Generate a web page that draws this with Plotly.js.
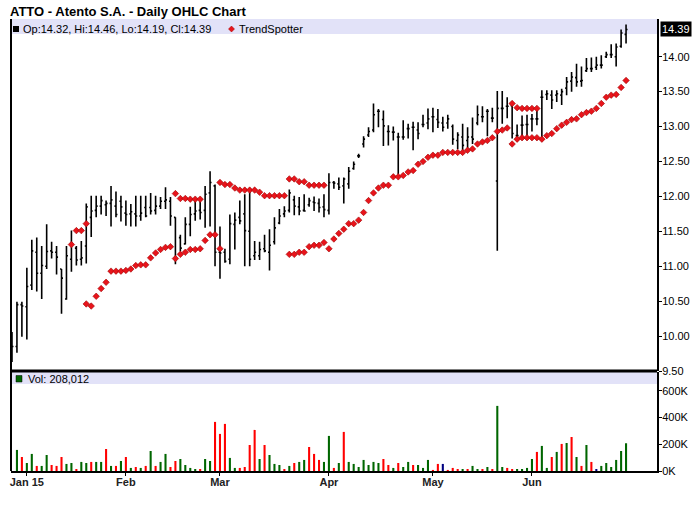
<!DOCTYPE html>
<html>
<head>
<meta charset="utf-8">
<script src="https://cdn.plot.ly/plotly-3.0.1.min.js"></script>
<style>html,body{margin:0;padding:0;background:#fff;}#chart{width:700px;height:512px;}</style>
</head>
<body>
<div id="chart"></div>
<script>
// ---- data ----
const dates = [
"2014-12-29","2014-12-30","2014-12-31",
"2015-01-02","2015-01-05","2015-01-06","2015-01-07","2015-01-08","2015-01-09","2015-01-12","2015-01-13","2015-01-14","2015-01-15","2015-01-16","2015-01-20","2015-01-21","2015-01-22","2015-01-23","2015-01-26","2015-01-27","2015-01-28","2015-01-29","2015-01-30",
"2015-02-02","2015-02-03","2015-02-04","2015-02-05","2015-02-06","2015-02-09","2015-02-10","2015-02-11","2015-02-12","2015-02-13","2015-02-17","2015-02-18","2015-02-19","2015-02-20","2015-02-23","2015-02-24","2015-02-25","2015-02-26","2015-02-27",
"2015-03-02","2015-03-03","2015-03-04","2015-03-05","2015-03-06","2015-03-09","2015-03-10","2015-03-11","2015-03-12","2015-03-13","2015-03-16","2015-03-17","2015-03-18","2015-03-19","2015-03-20","2015-03-23","2015-03-24","2015-03-25","2015-03-26","2015-03-27","2015-03-30","2015-03-31",
"2015-04-01","2015-04-02","2015-04-06","2015-04-07","2015-04-08","2015-04-09","2015-04-10","2015-04-13","2015-04-14","2015-04-15","2015-04-16","2015-04-17","2015-04-20","2015-04-21","2015-04-22","2015-04-23","2015-04-24","2015-04-27","2015-04-28","2015-04-29","2015-04-30",
"2015-05-01","2015-05-04","2015-05-05","2015-05-06","2015-05-07","2015-05-08","2015-05-11","2015-05-12","2015-05-13","2015-05-14","2015-05-15","2015-05-18","2015-05-19","2015-05-20","2015-05-21","2015-05-22","2015-05-26","2015-05-27","2015-05-28","2015-05-29",
"2015-06-01","2015-06-02","2015-06-03","2015-06-04","2015-06-05","2015-06-08","2015-06-09","2015-06-10","2015-06-11","2015-06-12","2015-06-15","2015-06-16","2015-06-17","2015-06-18","2015-06-19","2015-06-22","2015-06-23","2015-06-24","2015-06-25","2015-06-26"
];
const opens = [
9.66,9.85,10.45,10.42,10.73,11.20,10.90,11.00,11.22,11.20,
10.96,10.53,11.10,11.26,11.10,11.29,11.70,11.80,11.86,11.88,
11.90,11.86,11.93,11.76,11.75,11.75,11.72,11.84,11.84,11.80,
11.86,11.93,11.93,11.70,11.41,11.32,11.60,11.75,11.80,11.80,
12.05,12.15,11.20,11.20,11.10,11.60,11.70,11.75,11.50,11.15,
11.15,11.25,11.20,11.35,11.62,11.75,11.80,11.95,11.85,11.80,
11.88,11.92,11.90,11.85,11.80,12.20,12.18,12.15,12.18,12.40,
12.58,12.75,12.88,12.95,13.22,13.10,12.93,12.92,12.85,12.85,
12.97,12.99,12.95,13.03,13.05,13.14,13.10,13.05,13.05,13.00,
12.80,12.85,12.80,12.85,13.05,13.14,13.22,13.12,12.22,13.26,
13.29,13.30,12.87,13.02,13.03,13.11,13.11,13.42,13.46,13.45,
13.45,13.45,13.55,13.65,13.70,13.65,13.80,13.83,13.85,13.88,
14.00,14.03,14.00,14.15,14.32];
const highs = [
10.06,10.49,10.49,10.98,11.38,11.41,11.29,11.60,11.35,11.29,
10.96,11.29,11.51,11.29,11.36,11.90,12.01,12.01,12.01,11.94,
12.15,12.07,12.01,11.94,11.89,12.01,12.01,12.01,12.05,12.01,
11.99,12.13,11.99,11.70,11.45,11.70,11.85,11.99,11.93,12.15,
12.36,12.17,11.57,11.25,11.74,11.77,11.94,12.03,12.10,11.36,
11.35,11.45,11.53,11.70,11.82,11.86,12.10,12.01,11.99,12.03,
11.98,12.00,11.97,12.03,12.33,12.22,12.27,12.27,12.42,12.50,
12.61,12.86,12.99,13.33,13.25,13.23,13.02,13.00,12.91,13.09,
13.04,13.07,13.06,13.17,13.26,13.27,13.25,13.14,13.17,13.03,
12.92,13.04,12.99,13.13,13.30,13.29,13.25,13.27,13.51,13.51,
13.42,13.33,13.03,13.16,13.17,13.18,13.26,13.52,13.52,13.52,
13.52,13.54,13.71,13.78,13.90,13.86,13.98,13.99,14.00,14.02,
14.07,14.18,14.19,14.39,14.46];
const lows = [
9.63,9.76,9.99,9.95,10.66,10.64,10.53,10.96,11.11,10.88,
10.32,10.52,10.92,11.01,11.01,11.04,11.42,11.70,11.74,11.72,
11.57,11.70,11.64,11.58,11.57,11.57,11.65,11.70,11.74,11.74,
11.82,11.82,11.58,11.03,11.21,11.31,11.43,11.65,11.67,11.55,
11.57,11.00,10.82,11.05,11.03,11.24,11.60,11.00,11.00,11.09,
11.09,11.20,10.94,11.31,11.60,11.70,11.77,11.73,11.73,11.78,
11.85,11.79,11.77,11.70,11.74,12.11,12.09,11.90,12.11,12.38,
12.55,12.70,12.85,12.92,12.99,12.72,12.73,12.80,12.32,12.81,
12.83,12.66,12.82,12.99,12.96,12.92,12.98,12.93,12.97,12.74,
12.68,12.63,12.69,12.75,13.02,13.06,12.86,13.06,11.22,13.04,
13.12,12.83,12.80,12.85,12.87,12.93,13.02,12.82,13.38,13.25,
13.35,13.31,13.45,13.50,13.57,13.57,13.78,13.78,13.81,13.83,
13.98,13.98,13.86,14.13,14.19];
const closes = [
9.85,10.45,10.43,10.71,11.22,10.90,11.01,11.21,11.20,11.13,
10.83,11.15,11.31,11.09,11.12,11.85,11.79,11.86,11.94,11.90,
11.95,11.74,11.85,11.74,11.78,11.72,11.76,11.72,11.79,11.86,
11.93,11.95,11.72,11.12,11.26,11.60,11.74,11.79,11.77,12.03,
12.20,11.20,11.19,11.07,11.61,11.66,11.65,11.51,11.10,11.20,
11.24,11.22,11.30,11.55,11.72,11.79,12.05,11.86,11.79,11.79,
11.94,11.91,11.84,11.81,12.20,12.19,12.13,12.25,12.36,12.46,
12.58,12.82,12.93,13.17,13.22,13.01,12.93,12.92,12.85,12.85,
12.97,12.99,12.90,13.03,13.11,13.14,13.06,12.99,13.11,12.82,
12.88,12.73,12.85,12.82,13.17,13.14,13.22,13.12,13.26,13.26,
13.29,12.90,12.87,13.02,13.03,13.11,13.11,13.42,13.47,13.38,
13.47,13.50,13.64,13.71,13.64,13.66,13.83,13.83,13.88,13.88,
14.03,14.03,14.14,14.34,14.39];
const trendUpper = [
null,null,null,null,null,null,null,null,null,null,
null,null,11.31,11.51,11.51,11.61,null,null,null,null,
null,null,null,null,null,null,null,null,null,null,
null,null,null,12.04,11.97,11.97,11.96,11.96,11.96,null,
null,null,12.20,12.17,12.17,12.12,12.09,12.09,12.09,12.09,
12.06,12.01,12.01,12.01,12.01,12.01,12.25,12.25,12.21,12.21,
12.16,12.16,12.16,12.16,null,null,null,null,null,null,
null,null,null,null,null,null,null,null,null,null,
null,null,null,null,null,null,null,null,null,null,
null,null,null,null,null,null,null,null,null,null,
null,13.33,13.27,13.26,13.26,13.26,13.26,null,null,null,
null,null,null,null,null,null,null,null,null,null,
null,null,null,null,null];
const trendLower = [
null,null,null,null,null,null,null,null,null,null,
null,null,null,null,null,10.46,10.43,10.57,10.68,10.77,
10.93,10.93,10.93,10.94,10.96,11.01,11.02,11.02,11.12,11.19,
11.24,11.27,11.28,11.11,11.17,11.20,11.24,11.24,11.25,11.37,
11.45,11.45,11.25,null,null,null,null,null,null,null,
null,null,null,null,null,null,11.17,11.17,11.20,11.20,
11.28,11.30,11.30,11.34,11.25,11.39,11.47,11.53,11.61,11.61,
11.66,11.77,11.94,12.05,12.12,12.16,12.16,12.28,12.28,12.30,
12.35,12.37,12.46,12.50,12.56,12.59,12.59,12.63,12.63,12.63,
12.63,12.63,12.66,12.68,12.75,12.78,12.80,12.84,12.93,12.95,
12.98,12.75,12.82,12.84,12.84,12.84,12.84,12.82,12.87,12.90,
12.97,13.02,13.06,13.10,13.11,13.17,13.20,13.22,13.26,13.33,
13.42,13.45,13.46,13.56,13.66];
const volumes = [
null,158000,105000,60000,128000,38000,38000,120000,45000,38000,
105000,53000,60000,15000,68000,60000,68000,68000,68000,165000,
38000,38000,75000,105000,23000,30000,23000,38000,150000,38000,
68000,128000,30000,75000,90000,45000,23000,15000,15000,90000,
75000,368000,278000,353000,98000,23000,23000,30000,195000,308000,
90000,195000,120000,53000,45000,15000,38000,60000,68000,83000,
180000,128000,83000,68000,263000,23000,60000,293000,68000,53000,
30000,83000,45000,68000,60000,90000,45000,23000,60000,30000,
68000,45000,45000,23000,83000,8000,53000,53000,8000,23000,
15000,15000,15000,38000,15000,15000,30000,15000,488000,30000,
23000,15000,15000,15000,23000,90000,143000,188000,23000,105000,
143000,203000,210000,255000,105000,38000,195000,68000,15000,38000,
60000,30000,83000,150000,208012];
// volume direction: 1 = up day, -1 = down day, 0 = unchanged
const volDirection = [
null,1,-1,1,1,-1,1,1,-1,-1,
-1,1,1,-1,1,1,-1,1,1,-1,
1,-1,1,-1,1,-1,1,-1,1,-1,
1,1,-1,-1,1,1,1,1,-1,1,
1,-1,-1,-1,1,1,-1,-1,-1,-1,
1,-1,1,1,1,-1,1,-1,1,1,
-1,-1,-1,1,1,-1,1,-1,1,1,
1,1,1,1,1,-1,-1,1,-1,1,
1,-1,1,1,1,-1,-1,0,-1,-1,
-1,1,-1,1,1,-1,1,-1,1,1,
-1,-1,1,1,1,1,-1,1,1,-1,
1,-1,1,-1,1,-1,1,-1,0,1,
1,1,1,1,1];
const priceTicks = [9.5,10,10.5,11,11.5,12,12.5,13,13.5,14];
const volTicks = [0,200000,400000,600000];
const volTickLabels = ['0K','200K','400K','600K'];
const monthTickDates = ['2015-01-02','2015-02-02','2015-03-02','2015-04-01','2015-05-01','2015-06-01'];
const monthTickLabels = ['Jan 15','Feb','Mar','Apr','May','Jun'];
const lastBar = {op:14.32, hi:14.46, lo:14.19, cl:14.39};
const lastVolume = 208012;

// ---- geometry helpers (pixels -> paper) ----
const PL = 11, PR = 657, PT = 19, PB = 471;
const px = v => (v - PL) / (PR - PL);
const py = v => (PB - v) / (PB - PT);

const FONT = 'Liberation Sans, Arial, sans-serif';
const dirColor = d => d === 1 ? '#006600' : (d === -1 ? '#ff0000' : '#000080');
const trendMarker = {symbol: 'diamond', size: 5, color: '#e8141b', line: {color: '#a00000', width: 0.6}};

const traces = [
  {
    type: 'ohlc', x: dates, open: opens, high: highs, low: lows, close: closes,
    xaxis: 'x', yaxis: 'y', tickwidth: 0.3, hoverinfo: 'skip',
    increasing: {line: {color: '#000', width: 1.6}},
    decreasing: {line: {color: '#000', width: 1.6}}
  },
  {type: 'scatter', mode: 'markers', x: dates, y: trendUpper, xaxis: 'x', yaxis: 'y',
   marker: trendMarker, hoverinfo: 'skip'},
  {type: 'scatter', mode: 'markers', x: dates, y: trendLower, xaxis: 'x', yaxis: 'y',
   marker: trendMarker, hoverinfo: 'skip'},
  {
    type: 'bar', x: dates, y: volumes, xaxis: 'x', yaxis: 'y2', width: 0.42,
    marker: {color: volDirection.map(dirColor), line: {width: 0}}, hoverinfo: 'skip'
  }
];

const fmt = v => v.toFixed(2);
const layout = {
  width: 700, height: 512,
  margin: {l: PL, r: 700 - PR, t: PT, b: 512 - PB, pad: 0},
  paper_bgcolor: '#fff', plot_bgcolor: '#fff',
  showlegend: false,
  title: {
    text: 'ATTO - Atento S.A. - Daily OHLC Chart',
    font: {family: FONT, size: 13, color: '#000', weight: 'bold'},
    x: 10 / 700, xanchor: 'left', xref: 'container',
    y: 1 - 11 / 512, yanchor: 'middle', yref: 'container'
  },
  xaxis: {
    type: 'category', range: [-0.2, 130.25], anchor: 'y2',
    tickvals: monthTickDates, ticktext: monthTickLabels,
    ticks: 'outside', ticklen: 3, tickcolor: '#000', tickwidth: 1,
    ticklabelstandoff: -3,
    showline: true, linecolor: '#000', linewidth: 1.5,
    showgrid: false, zeroline: false, fixedrange: true,
    rangeslider: {visible: false},
    tickfont: {family: FONT, size: 11, color: '#222', weight: 'bold'}
  },
  yaxis: {
    domain: [py(371), 1], range: [9.5, 14.54], side: 'right', anchor: 'x',
    tickvals: priceTicks, ticktext: priceTicks.map(fmt),
    ticks: 'outside', ticklen: 3, tickcolor: '#000', ticklabelstandoff: -2,
    showline: true, linecolor: '#000', linewidth: 2,
    showgrid: false, zeroline: false, fixedrange: true,
    tickfont: {family: FONT, size: 11, color: '#000'}
  },
  yaxis2: {
    domain: [0, py(372)], range: [0, 742000], side: 'right', anchor: 'x',
    tickvals: volTicks, ticktext: volTickLabels,
    ticks: 'outside', ticklen: 3, tickcolor: '#000', ticklabelstandoff: -2,
    showline: true, linecolor: '#000', linewidth: 2,
    showgrid: false, zeroline: false, fixedrange: true,
    tickfont: {family: FONT, size: 11, color: '#000'}
  },
  shapes: [
    {type: 'rect', xref: 'paper', yref: 'paper', x0: 0, x1: 1, y0: py(34), y1: 1,
     fillcolor: '#e2e2f8', line: {width: 0}, layer: 'below'},
    {type: 'rect', xref: 'paper', yref: 'paper', x0: 0, x1: 1, y0: py(384), y1: py(372),
     fillcolor: '#e2e2f8', line: {width: 0}, layer: 'below'},
    {type: 'line', xref: 'paper', yref: 'paper', x0: 0, x1: 1, y0: py(371), y1: py(371),
     line: {color: '#000', width: 3}},
    {type: 'line', xref: 'paper', yref: 'paper', x0: 0, x1: 0, y0: 0, y1: 1,
     line: {color: '#000', width: 2}},
    {type: 'rect', xref: 'paper', yref: 'paper', x0: px(13), x1: px(19), y0: py(32), y1: py(26),
     fillcolor: '#000', line: {width: 0}},
    {type: 'path', xref: 'paper', yref: 'paper',
     path: `M ${px(228.5)},${py(29)} L ${px(231.5)},${py(26)} L ${px(234.5)},${py(29)} L ${px(231.5)},${py(32)} Z`,
     fillcolor: '#e8141b', line: {color: '#a00000', width: 0.5}},
    {type: 'rect', xref: 'paper', yref: 'paper', x0: px(16), x1: px(22), y0: py(382), y1: py(375.5),
     fillcolor: '#006600', line: {color: '#000', width: 0.5}}
  ],
  annotations: [
    {xref: 'paper', yref: 'paper', x: px(21), y: py(29), xanchor: 'left', yanchor: 'middle',
     text: `Op:${fmt(lastBar.op)}, Hi:${fmt(lastBar.hi)}, Lo:${fmt(lastBar.lo)}, Cl:${fmt(lastBar.cl)}`,
     showarrow: false, font: {family: FONT, size: 11, color: '#000'}},
    {xref: 'paper', yref: 'paper', x: px(237), y: py(29), xanchor: 'left', yanchor: 'middle',
     text: 'TrendSpotter', showarrow: false, font: {family: FONT, size: 11, color: '#000'}},
    {xref: 'paper', yref: 'paper', x: px(26), y: py(379), xanchor: 'left', yanchor: 'middle',
     text: 'Vol: ' + lastVolume.toLocaleString('en-US'), showarrow: false,
     font: {family: FONT, size: 11, color: '#000'}},
    {xref: 'paper', yref: 'y', x: 1, y: lastBar.cl, xanchor: 'left', yanchor: 'middle', xshift: 3,
     text: fmt(lastBar.cl), showarrow: false, bgcolor: '#000', borderpad: 1,
     font: {family: FONT, size: 11, color: '#fff'}}
  ]
};

Plotly.newPlot('chart', traces, layout, {displayModeBar: false, staticPlot: true});
</script>
</body>
</html>
